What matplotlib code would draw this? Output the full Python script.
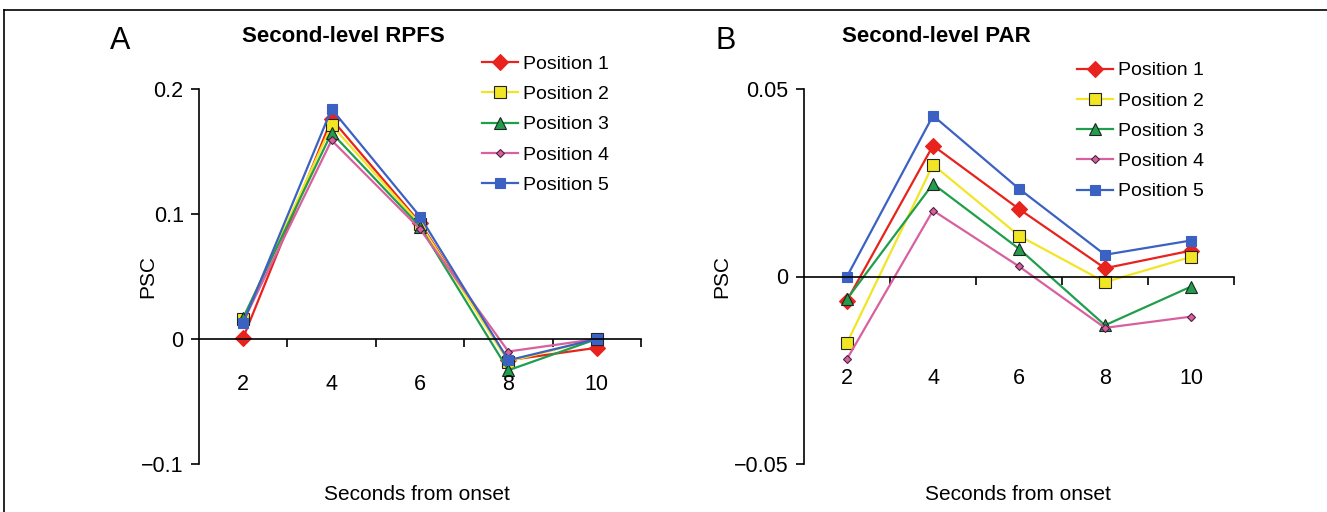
import matplotlib
matplotlib.use("Agg")
import matplotlib.pyplot as plt
from matplotlib.lines import Line2D
from matplotlib.transforms import blended_transform_factory

plt.rcParams['font.family'] = ['Liberation Sans', 'DejaVu Sans']

# data
seconds = ["2", "4", "6", "8", "10"]
labels = ["Position 1", "Position 2", "Position 3", "Position 4", "Position 5"]

rpfs_p1 = [0.001, 0.176, 0.093, -0.017, -0.007]
rpfs_p2 = [0.016, 0.171, 0.092, -0.018, 0.0]
rpfs_p3 = [0.017, 0.165, 0.090, -0.025, 0.0]
rpfs_p4 = [0.014, 0.159, 0.088, -0.010, 0.0]
rpfs_p5 = [0.013, 0.184, 0.098, -0.017, 0.0]

par_p1 = [-0.0064, 0.0349, 0.0180, 0.0022, 0.0069]
par_p2 = [-0.0177, 0.0298, 0.0109, -0.0015, 0.0052]
par_p3 = [-0.0060, 0.0247, 0.0074, -0.0130, -0.0027]
par_p4 = [-0.0220, 0.0176, 0.0027, -0.0137, -0.0107]
par_p5 = [0.0000, 0.0429, 0.0234, 0.0058, 0.0096]

# style per position: color, marker, size, edge color
styles = [
    ("#e8231d", "D", 8.5, "#e8231d"),
    ("#f2e524", "s", 8, "#222222"),
    ("#1f9e4c", "^", 8.5, "#222222"),
    ("#d9609e", "D", 4, "#4a2340"),
    ("#3b62c2", "s", 7, "#3b62c2"),
]

W, H = 1327, 512
fig = plt.figure(figsize=(W / 100, H / 100), dpi=100)

# frame lines of the figure panel
fig.add_artist(Line2D([4 / W, 1], [1 - 10 / H, 1 - 10 / H], color="black", lw=1.2))
fig.add_artist(Line2D([4 / W, 4 / W], [0, 1 - 10 / H], color="black", lw=1.2))


def panel(left, right, series, ylim, yticks, yticklabels, title, letter, label_y,
          leg_anchor, title_x, ylab_x, xlab_x):
    ax = fig.add_axes([left / W, 48 / H, (right - left) / W, 375 / H])
    x = list(range(1, len(seconds) + 1))
    for vals, lab, (c, m, ms, ec) in zip(series, labels, styles):
        ax.plot(x, vals, color=c, lw=1.6, marker=m, markersize=ms,
                markerfacecolor=c, markeredgecolor=ec, markeredgewidth=0.8, label=lab)
    ax.set_xlim(0.5, len(seconds) + 0.5)
    ax.set_ylim(*ylim)
    ax.spines['top'].set_visible(False)
    ax.spines['right'].set_visible(False)
    ax.spines['bottom'].set_position(('data', 0))
    ax.spines['left'].set_linewidth(1.2)
    ax.spines['bottom'].set_linewidth(1.2)
    ax.set_xticks([i + 0.5 for i in x])
    ax.set_xticklabels([])
    ax.set_yticks(yticks)
    ax.set_yticklabels(yticklabels)
    ax.tick_params(axis='both', direction='out', length=6, width=1.2, labelsize=15.5, pad=5)
    trans = blended_transform_factory(ax.transData, ax.transAxes)
    for xi, s in zip(x, seconds):
        ax.text(xi, label_y, s, transform=trans, ha='center', va='center', fontsize=15.5)
    ax.set_ylabel("PSC", fontsize=15)
    ax.yaxis.set_label_coords(ylab_x, 0.5)
    ax.set_xlabel("Seconds from onset", fontsize=15)
    ax.xaxis.set_label_coords(xlab_x, -0.08)
    ax.xaxis.label.set_va('center')
    ax.yaxis.label.set_va('center')
    fig.text(title_x / W, 1 - 37 / H, title, fontsize=16, fontweight='bold',
             ha='left', va='center')
    fig.text((left - 89) / W, 1 - 41 / H, letter, fontsize=22, ha='left', va='center')
    ax.legend(loc='upper left', bbox_to_anchor=leg_anchor, frameon=False, fontsize=14,
              handlelength=1.85, handletextpad=0.25, labelspacing=0.65, borderaxespad=0)
    return ax


panel(199, 641, [rpfs_p1, rpfs_p2, rpfs_p3, rpfs_p4, rpfs_p5], (-0.1, 0.2),
      [-0.1, 0, 0.1, 0.2], ["\u22120.1", "0", "0.1", "0.2"],
      "Second-level RPFS", "A", 0.213, ((474 - 199) / 442, 1 + 41.5 / 375),
      242, (148 - 199) / 442, 0.493)
panel(804, 1234, [par_p1, par_p2, par_p3, par_p4, par_p5], (-0.05, 0.05),
      [-0.05, 0, 0.05], ["\u22120.05", "0", "0.05"],
      "Second-level PAR", "B", 0.229, ((1069 - 804) / 430, 1 + 35 / 375),
      842, (722 - 804) / 430, 0.498)

fig.savefig("out.png", dpi=100)
